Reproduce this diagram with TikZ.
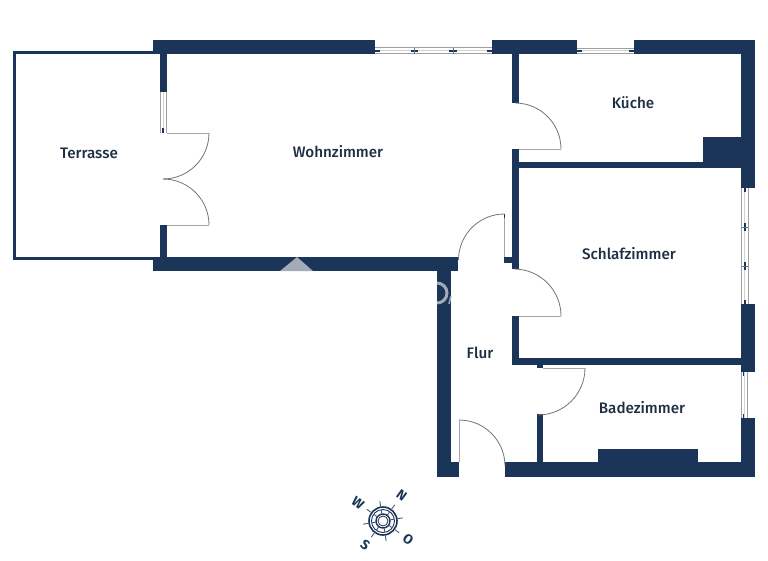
\documentclass[tikz,border=0pt]{standalone}
\usepackage{fontspec}
\setmainfont{Fira Sans}[BoldFont=Fira Sans Medium]
\newfontfamily\compassfont{Fira Sans}[BoldFont=Fira Sans Bold]
\definecolor{wallblue}{HTML}{1A3557}
\definecolor{textblue}{HTML}{1F2F42}
\definecolor{markgray}{HTML}{A3ABB8}
\tikzset{
    wall/.style = {fill=wallblue,draw=none},
    terraceline/.style = {wallblue,line width=3pt},
    leaf/.style = {-,line width=0.8pt,gray!70},
    swing/.style = {-,line width=0.8pt,gray!90!black},
    pane/.style = {-,line width=1pt,gray!75},
    panemid/.style = {-,line width=0.6pt,gray!35},
    paneend/.style = {-,line width=1.6pt,wallblue},
    panecross/.style = {-,line width=0.6pt,wallblue!70},
    room/.style = {font=\bfseries\fontsize{15.2}{17}\selectfont,text=textblue,inner sep=0},
    dial/.style = {-,line width=0.9pt,wallblue!80},
    compass/.style = {font=\compassfont\bfseries\fontsize{13.5}{14}\selectfont,text=wallblue,inner sep=0},
    markshape/.style = {fill=markgray,draw=none}
}
\begin{document}
\begin{tikzpicture}[x=1pt,y=-1pt]
\useasboundingbox (0,0) rectangle (768,560);

% walls
\fill[wall] (153,40) rectangle (375,54);
\fill[wall] (492,40) rectangle (577,54);
\fill[wall] (634,40) rectangle (755,54);
\fill[wall] (741,54) rectangle (755,188);
\fill[wall] (741,304) rectangle (755,372);
\fill[wall] (741,418) rectangle (755,477);
\fill[wall] (703,137) rectangle (741,162);
\fill[wall] (512,54) rectangle (519,103);
\fill[wall] (512,149) rectangle (519,269);
\fill[wall] (512,316) rectangle (519,365);
\fill[wall] (519,162) rectangle (741,168);
\fill[wall] (519,358) rectangle (741,365);
\fill[wall] (504,257) rectangle (512,263);
\fill[wall] (537,365) rectangle (543,368);
\fill[wall] (537,414) rectangle (543,462);
\fill[wall] (160,54) rectangle (167,92);
\fill[wall] (160,225) rectangle (167,257);
\fill[wall] (153,257) rectangle (458,271);
\fill[wall] (437,271) rectangle (451,462);
\fill[wall] (437,462) rectangle (459,477);
\fill[wall] (505,462) rectangle (741,477);
\fill[wall] (598,449) rectangle (698,462);

% terrace
\draw[terraceline] (153,52.5) -- (14,52.5) -- (14,258.5) -- (153,258.5);

% windows
\draw[pane] (375,47.5) -- (492,47.5);
\draw[pane] (375,53) -- (492,53);
\draw[panemid] (375,50.5) -- (492,50.5);
\draw[pane] (577,48) -- (634,48);
\draw[pane] (577,53) -- (634,53);
\draw[panemid] (577,50.5) -- (634,50.5);
\draw[pane] (741.5,188) -- (741.5,304);
\draw[pane] (748,188) -- (748,304);
\draw[panemid] (744.5,188) -- (744.5,304);
\draw[pane] (741,372) -- (741,418);
\draw[pane] (747.5,372) -- (747.5,418);
\draw[panemid] (744,372) -- (744,418);
\draw[pane] (160.5,92) -- (160.5,133);
\draw[pane] (166.5,92) -- (166.5,133);
\draw[panemid] (163,92) -- (163,133);
\draw[paneend] (375,51) -- (380,51);
\draw[paneend] (411,51) -- (418,51);
\draw[paneend] (449,51) -- (457,51);
\draw[paneend] (487,51) -- (492,51);
\draw[paneend] (577,51) -- (582,51);
\draw[paneend] (629,51) -- (634,51);
\draw[paneend] (745,188) -- (745,192);
\draw[paneend] (745,223) -- (745,231);
\draw[paneend] (745,262) -- (745,270);
\draw[paneend] (745,300) -- (745,304);
\draw[paneend] (743.5,372) -- (743.5,376);
\draw[paneend] (743.5,414) -- (743.5,418);
\draw[paneend] (163,128) -- (163,133);
\draw[panecross] (414,47.5) -- (414,54);
\draw[panecross] (453,47.5) -- (453,54);
\draw[panecross] (741.5,227) -- (748,227);
\draw[panecross] (741.5,266) -- (748,266);

% doors
\draw[leaf] (167,133) -- (209,133);
\draw[swing] (209,133) arc[start angle=0,end angle=90,radius=46];
\draw[leaf] (167,225) -- (209,225);
\draw[swing] (209,225) arc[start angle=0,end angle=-90,radius=46];
\draw[leaf] (519,149) -- (561,149);
\draw[swing] (561,149) arc[start angle=0,end angle=-90,radius=46];
\draw[leaf] (519,316) -- (561,316);
\draw[swing] (561,316) arc[start angle=0,end angle=-90,radius=47];
\draw[leaf] (504.5,214) -- (504.5,257);
\draw[swing] (504.5,214) arc[start angle=-90,end angle=-180,radius=46];
\draw[paneend] (504.5,214) -- (504.5,218);
\draw[leaf] (543,368) -- (585,368);
\draw[swing] (585,368) arc[start angle=0,end angle=90,radius=47];
\draw[leaf] (459,420) -- (459,462);
\draw[swing] (459,420) arc[start angle=-90,end angle=0,radius=46];

% watermark left on the walls
\fill[markshape] (297,257) -- (313,271) -- (280,271) -- cycle;
\draw[markgray,line width=3pt] (437,283) arc[start angle=-90,end angle=90,radius=10];
\draw[markgray,line width=1.5pt] (451,296) -- (449,304);

% rooms
\node[room] at (89,153) (terrasse) {Terrasse};
\node[room] at (338,152) (wohnzimmer) {Wohnzimmer};
\node[room] at (633,103) (kueche) {Küche};
\node[room] at (629,254) (schlafzimmer) {Schlafzimmer};
\node[room] at (480,353) (flur) {Flur};
\node[room] at (642,408) (badezimmer) {Badezimmer};

% compass
\begin{scope}[shift={(383,521)}]
\draw[wallblue,line width=1.6pt] (0,0) circle (14);
\draw[wallblue,line width=0.9pt] (0,0) circle (11.5);
\draw[wallblue,line width=1.4pt] (0,0) circle (7);
\draw[wallblue,line width=0.8pt] (0,0) circle (5);
\foreach \ang in {-54,-9,36,81,126,171,216,261} {
    \draw[dial] (\ang:7) -- (\ang:11.5);
    \draw[dial] (\ang:14) -- (\ang:20);
}
\node[compass,rotate=-36] at (-54:32) (north) {N};
\node[compass,rotate=-36] at (36:31) (east) {O};
\node[compass,rotate=-36] at (126:30) (south) {S};
\node[compass,rotate=-36] at (216:31) (west) {W};
\end{scope}

\end{tikzpicture}
\end{document}
